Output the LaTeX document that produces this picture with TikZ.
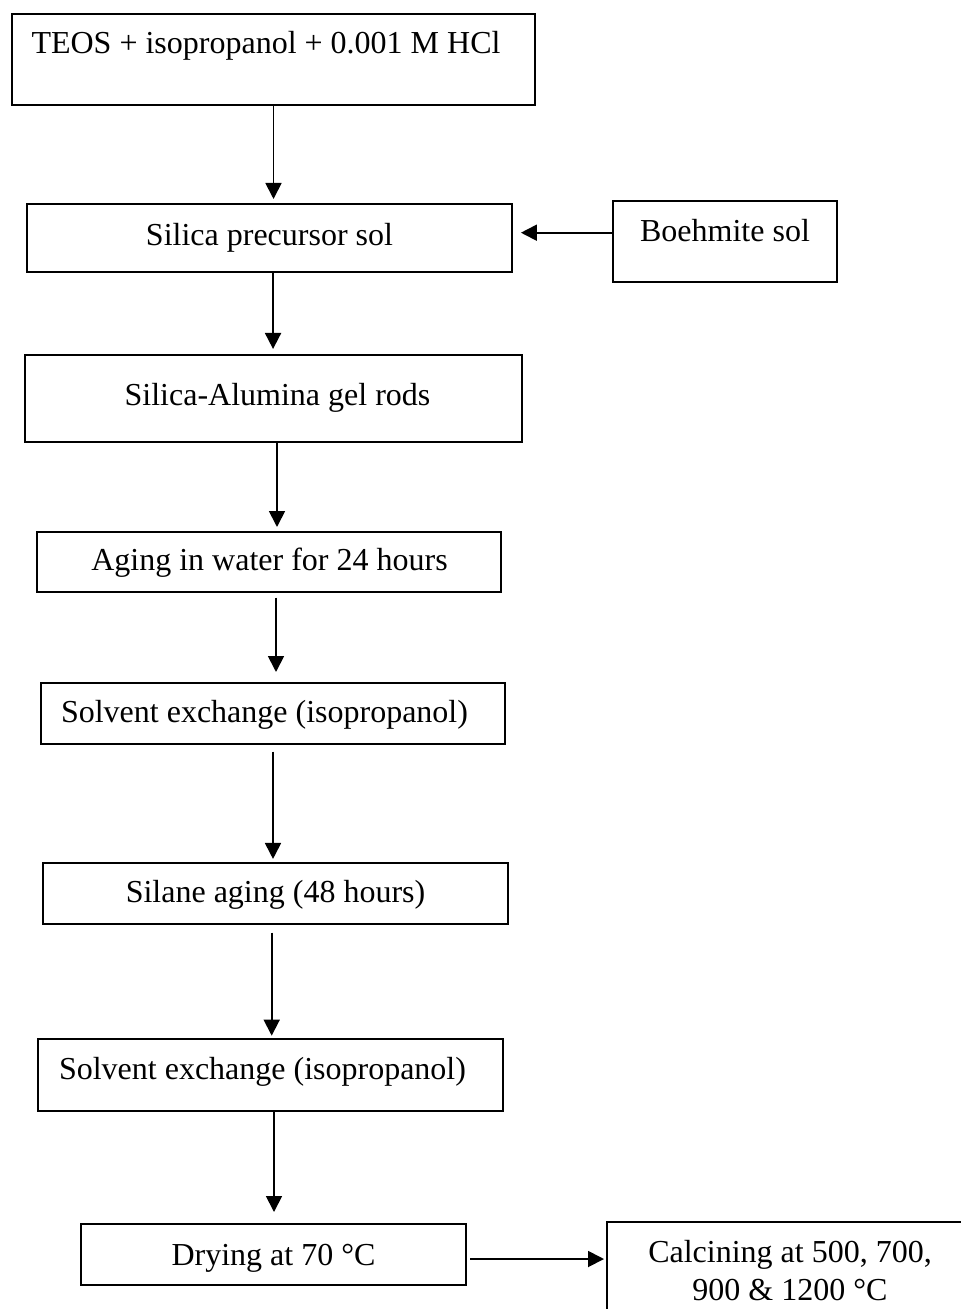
\documentclass[tikz,border=0pt]{standalone}
\usepackage{fontspec}
\setmainfont{Liberation Serif}
\usepackage{tikz}
\usetikzlibrary{arrows.meta,positioning,calc}

\begin{document}
\begin{tikzpicture}[x=0.5pt,y=-0.5pt,
    box/.style={draw,line width=1pt,inner sep=0pt},
    lbl/.style={anchor=base,inner sep=0pt,font=\fontsize{16}{19}\selectfont},
    arr/.style={-{Triangle[length=8pt,width=8pt]},line width=0.9pt}]
    \useasboundingbox (0,0) rectangle (961,1309);
    \clip (0,0) rectangle (961,1309);
    \node[box,minimum width=261.5pt,minimum height=45.5pt] (teos) at (273.5,59.5) {};
    \node[box,minimum width=242.25pt,minimum height=34.25pt] (sol) at (269.25,238.25) {};
    \node[box,minimum width=112pt,minimum height=40.5pt] (boeh) at (724.7,241.2) {};
    \node[box,minimum width=248.5pt,minimum height=43.5pt] (gel) at (273.5,398.5) {};
    \node[box,minimum width=232pt,minimum height=30pt] (aging) at (269,561.7) {};
    \node[box,minimum width=232pt,minimum height=30.5pt] (exch1) at (273,713.5) {};
    \node[box,minimum width=232.5pt,minimum height=30.65pt] (silane) at (275.5,893.3) {};
    \node[box,minimum width=232.5pt,minimum height=35.85pt] (exch2) at (270.5,1074.8) {};
    \node[box,minimum width=192.5pt,minimum height=30.5pt] (dry) at (273.5,1254.5) {};
    \node[box,minimum width=181.5pt,minimum height=51.5pt] (calc) at (788.5,1273.5) {};
    \node[lbl] (teos-t) at (266,54) {TEOS + isopropanol + 0.001 M HCl};
    \node[lbl] (sol-t) at (269.5,246) {Silica precursor sol};
    \node[lbl] (boeh-t) at (725,242) {Boehmite sol};
    \node[lbl] (gel-t) at (277.5,406) {Silica-Alumina gel rods};
    \node[lbl] (aging-t) at (269.5,570) {Aging in water for 24 hours};
    \node[lbl] (exch1-t) at (264.5,722.7) {Solvent exchange (isopropanol)};
    \node[lbl] (silane-t) at (275.5,902) {Silane aging (48 hours)};
    \node[lbl] (exch2-t) at (262.5,1079) {Solvent exchange (isopropanol)};
    \node[lbl] (dry-t) at (273.5,1265) {Drying at 70 °C};
    \node[lbl,align=center] (calc-t) at (790,1300) {Calcining at 500, 700,\\ 900 \& 1200 °C};
    \draw[arr,shorten >=2pt] (teos.south) -- (teos.south |- sol.north);
    \draw[arr,shorten >=2.5pt] ([xshift=1.9pt]sol.south) -- ([xshift=1.9pt]sol.south |- gel.north);
    \draw[arr,shorten >=1.85pt] ([xshift=1.75pt]gel.south) -- ([xshift=1.75pt]gel.south |- aging.north);
    \draw[arr,shorten <=2.5pt,shorten >=5pt] ([xshift=3.5pt]aging.south) -- ([xshift=3.5pt]aging.south |- exch1.north);
    \draw[arr,shorten <=3.35pt,shorten >=1.35pt] (exch1.south) -- (exch1.south |- silane.north);
    \draw[arr,shorten <=3.85pt,shorten >=1.15pt] ([xshift=-1.9pt]silane.south) -- ([xshift=-1.9pt]silane.south |- exch2.north);
    \draw[arr,shorten >=5.5pt] ([xshift=1.75pt]exch2.south) -- ([xshift=1.75pt]exch2.south |- dry.north);
    \draw[arr,shorten >=4.2pt] ([yshift=4.25pt]boeh.west) -- ([yshift=4.25pt]boeh.west -| sol.east);
    \draw[arr,shorten <=1.5pt,shorten >=1pt] ([yshift=-2.25pt]dry.east) -- ([yshift=-2.25pt]dry.east -| calc.west);
\end{tikzpicture}
\end{document}
